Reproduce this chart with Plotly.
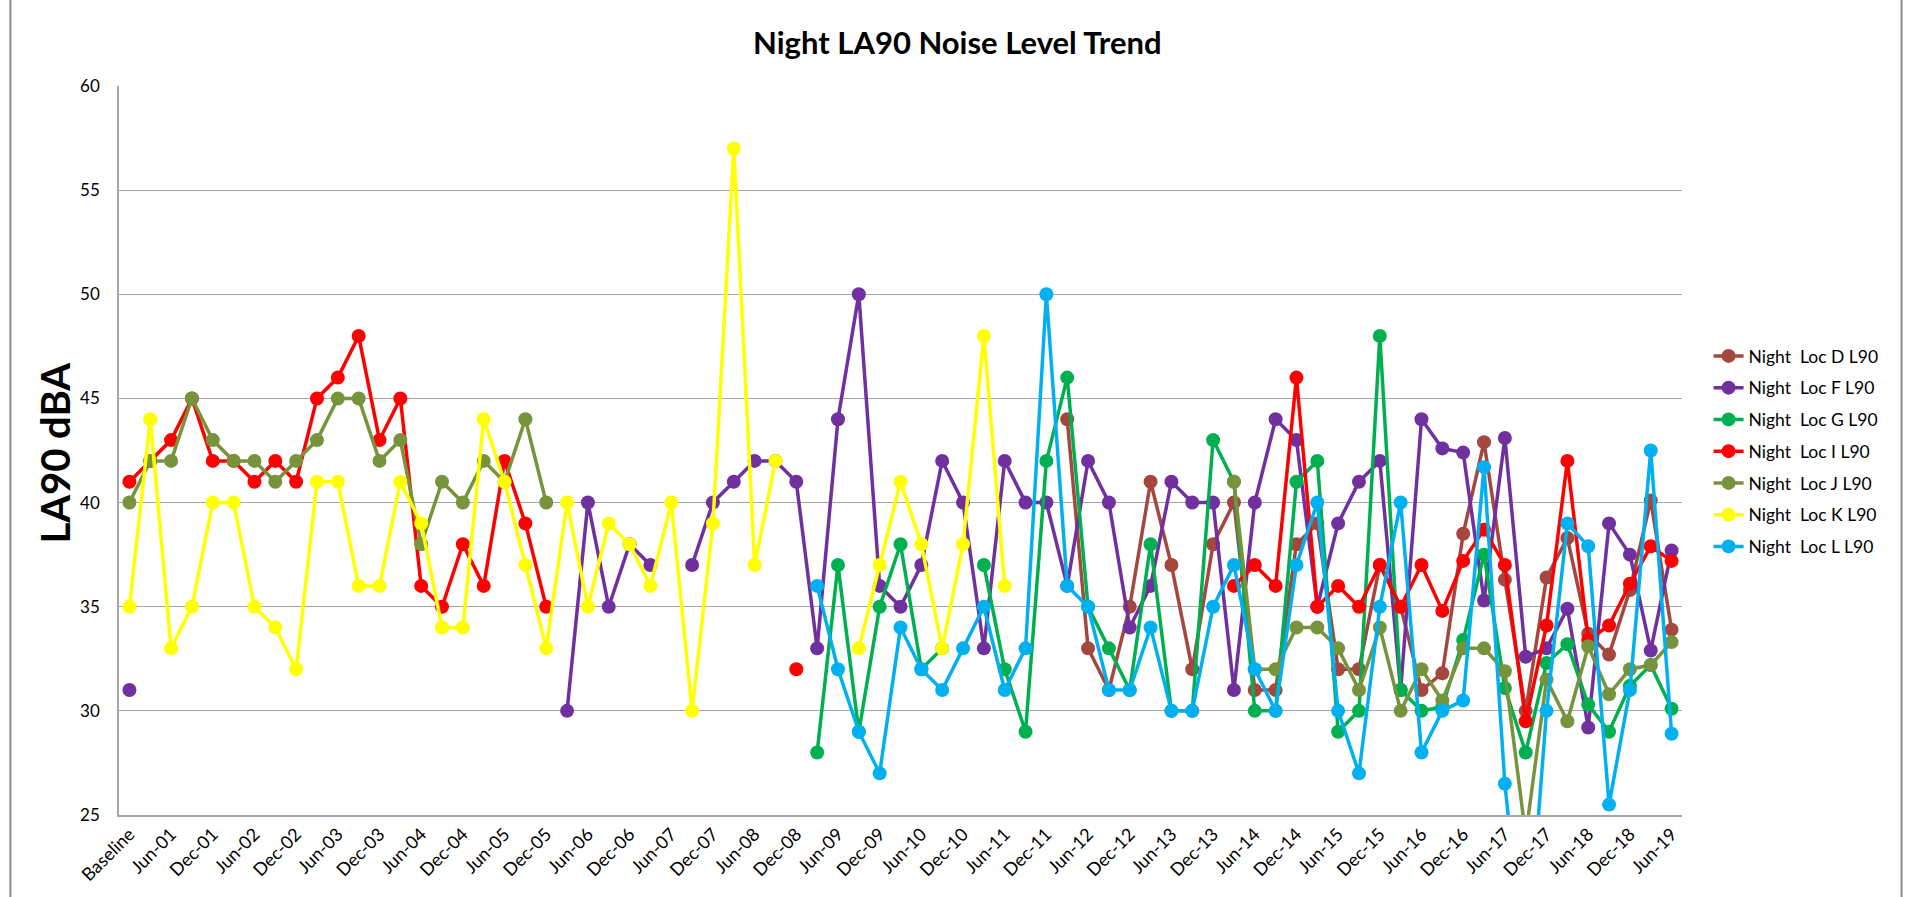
import plotly.graph_objects as go

# Eje X: periodos trimestrales (en el eje solo se rotula uno de cada dos)
periodos = [
    "Baseline",
    "Mar-01", "Jun-01", "Sep-01", "Dec-01",
    "Mar-02", "Jun-02", "Sep-02", "Dec-02",
    "Mar-03", "Jun-03", "Sep-03", "Dec-03",
    "Mar-04", "Jun-04", "Sep-04", "Dec-04",
    "Mar-05", "Jun-05", "Sep-05", "Dec-05",
    "Mar-06", "Jun-06", "Sep-06", "Dec-06",
    "Mar-07", "Jun-07", "Sep-07", "Dec-07",
    "Mar-08", "Jun-08", "Sep-08", "Dec-08",
    "Mar-09", "Jun-09", "Sep-09", "Dec-09",
    "Mar-10", "Jun-10", "Sep-10", "Dec-10",
    "Mar-11", "Jun-11", "Sep-11", "Dec-11",
    "Mar-12", "Jun-12", "Sep-12", "Dec-12",
    "Mar-13", "Jun-13", "Sep-13", "Dec-13",
    "Mar-14", "Jun-14", "Sep-14", "Dec-14",
    "Mar-15", "Jun-15", "Sep-15", "Dec-15",
    "Mar-16", "Jun-16", "Sep-16", "Dec-16",
    "Mar-17", "Jun-17", "Sep-17", "Dec-17",
    "Mar-18", "Jun-18", "Sep-18", "Dec-18",
    "Mar-19", "Jun-19",
]

etiquetas_x = [
    "Baseline", "Jun-01", "Dec-01", "Jun-02", "Dec-02", "Jun-03", "Dec-03",
    "Jun-04", "Dec-04", "Jun-05", "Dec-05", "Jun-06", "Dec-06", "Jun-07",
    "Dec-07", "Jun-08", "Dec-08", "Jun-09", "Dec-09", "Jun-10", "Dec-10",
    "Jun-11", "Dec-11", "Jun-12", "Dec-12", "Jun-13", "Dec-13", "Jun-14",
    "Dec-14", "Jun-15", "Dec-15", "Jun-16", "Dec-16", "Jun-17", "Dec-17",
    "Jun-18", "Dec-18", "Jun-19",
]

N = None

loc_d = [N] * 45 + [
    44, 33, 31, 35, 41, 37, 32, 38, 40, 31, 31, 38, 39, 32, 32, 37, 35, 31,
    31.8, 38.5, 42.9, 36.3, 30, 36.4, 38.3, 33.7, 32.7, 35.8, 40.1, 33.9,
]

loc_f = [31] + [N] * 20 + [
    30, 40, 35, 38, 37, N, 37, 40, 41, 42, 42, 41, 33, 44, 50, 36, 35, 37,
    42, 40, 33, 42, 40, 40, 36, 42, 40, 34, 36, 41, 40, 40, 31, 40, 44, 43,
    35, 39, 41, 42, 31, 44, 42.6, 42.4, 35.3, 43.1, 32.6, 33, 34.9, 29.2,
    39, 37.5, 32.9, 37.7,
]

loc_g = [N] * 33 + [
    28, 37, 29, 35, 38, 32, 33, N, 37, 32, 29, 42, 46, 35, 33, 31, 38, 30,
    30, 43, 41, 30, 30, 41, 42, 29, 30, 48, 31, 30, 30.2, 33.4, 37.5, 31.1,
    28, 32.3, 33.2, 30.3, 29, 31.2, 32.2, 30.1,
]

loc_i = [
    41, 42, 43, 45, 42, 42, 41, 42, 41, 45, 46, 48, 43, 45, 36, 35, 38, 36,
    42, 39, 35,
] + [N] * 11 + [32] + [N] * 20 + [
    36, 37, 36, 46, 35, 36, 35, 37, 35, 37, 34.8, 37.2, 38.7, 37, 29.5,
    34.1, 42, 33.4, 34.1, 36.1, 37.9, 37.2,
]

loc_j = [
    40, 42, 42, 45, 43, 42, 42, 41, 42, 43, 45, 45, 42, 43, 38, 41, 40, 42,
    41, 44, 40,
] + [N] * 32 + [
    41, 32, 32, 34, 34, 33, 31, 34, 30, 32, 30.5, 33, 33, 31.9, 24, 31.5,
    29.5, 33.1, 30.8, 32, 32.2, 33.3,
]

loc_k = [
    35, 44, 33, 35, 40, 40, 35, 34, 32, 41, 41, 36, 36, 41, 39, 34, 34, 44,
    41, 37, 33, 40, 35, 39, 38, 36, 40, 30, 39, 57, 37, 42, N, N, N, 33, 37,
    41, 38, 33, 38, 48, 36,
] + [N] * 32

loc_l = [N] * 33 + [
    36, 32, 29, 27, 34, 32, 31, 33, 35, 31, 33, 50, 36, 35, 31, 31, 34, 30,
    30, 35, 37, 32, 30, 37, 40, 30, 27, 35, 40, 28, 30, 30.5, 41.7, 26.5,
    17, 30, 39, 37.9, 25.5, 31, 42.5, 28.9,
]

series = [
    ("Night  Loc D L90", loc_d, "#A5463F"),
    ("Night  Loc F L90", loc_f, "#7030A0"),
    ("Night  Loc G L90", loc_g, "#00B050"),
    ("Night  Loc I L90", loc_i, "#FF0000"),
    ("Night  Loc J L90", loc_j, "#77933C"),
    ("Night  Loc K L90", loc_k, "#FFFF00"),
    ("Night  Loc L L90", loc_l, "#00B0F0"),
]

FUENTE = "Lato, 'Open Sans', sans-serif"

fig = go.Figure()
for nombre, valores, color in series:
    fig.add_trace(go.Scatter(
        x=periodos, y=valores,
        mode="lines+markers",
        name=nombre,
        legendgroup=nombre,  # un grupo por serie para poder separar las entradas
        line=dict(color=color, width=3.5),
        marker=dict(color=color, size=14),
        connectgaps=False,
        cliponaxis=True,
    ))

fig.update_layout(
    width=1907, height=897,
    margin=dict(l=119, r=225, t=86, b=82),
    paper_bgcolor="white",
    plot_bgcolor="white",
    font=dict(family=FUENTE, color="black"),
    title=dict(
        text="<b>Night LA90 Noise Level Trend</b>",
        x=0.502, xref="container", xanchor="center",
        y=0.952, yref="container", yanchor="middle",
        font=dict(size=31, color="black"),
    ),
    legend=dict(
        x=1.017, xanchor="left", y=0.4986, yanchor="middle",
        font=dict(size=17.5),
        bgcolor="rgba(0,0,0,0)",
        tracegroupgap=6,
    ),
    xaxis=dict(
        type="category",
        categoryorder="array", categoryarray=periodos,
        range=[-0.5, len(periodos) - 0.5],
        tickmode="array", tickvals=etiquetas_x, ticktext=etiquetas_x,
        tickangle=-45,
        tickfont=dict(size=18),
        showgrid=False,
        showline=True, linecolor="#A6A6A6", linewidth=1.5,
        ticks="",
    ),
    yaxis=dict(
        range=[25, 60], dtick=5,
        tickfont=dict(size=17),
        showgrid=True, gridcolor="#A6A6A6", gridwidth=1,
        showline=True, linecolor="#A6A6A6", linewidth=1.5,
        zeroline=False,
        ticks="", ticklabelstandoff=14,
    ),
    annotations=[dict(
        text="<b>LA90 dBA</b>",
        xref="paper", yref="paper",
        x=-0.041, y=0.497, xanchor="center", yanchor="middle",
        textangle=-90, showarrow=False,
        font=dict(size=40, color="black"),
    )],
    shapes=[
        dict(type="line", xref="paper", yref="paper",
             x0=-0.0695, x1=-0.0695, y0=-0.2, y1=1.2,
             line=dict(color="#8C8C8C", width=2)),
        dict(type="line", xref="paper", yref="paper",
             x0=1.1405, x1=1.1405, y0=-0.2, y1=1.2,
             line=dict(color="#8C8C8C", width=2)),
    ],
)

fig.write_html(
    "out.html",
    config={"displayModeBar": False},
    post_script="document.body.style.margin='0';",
)
